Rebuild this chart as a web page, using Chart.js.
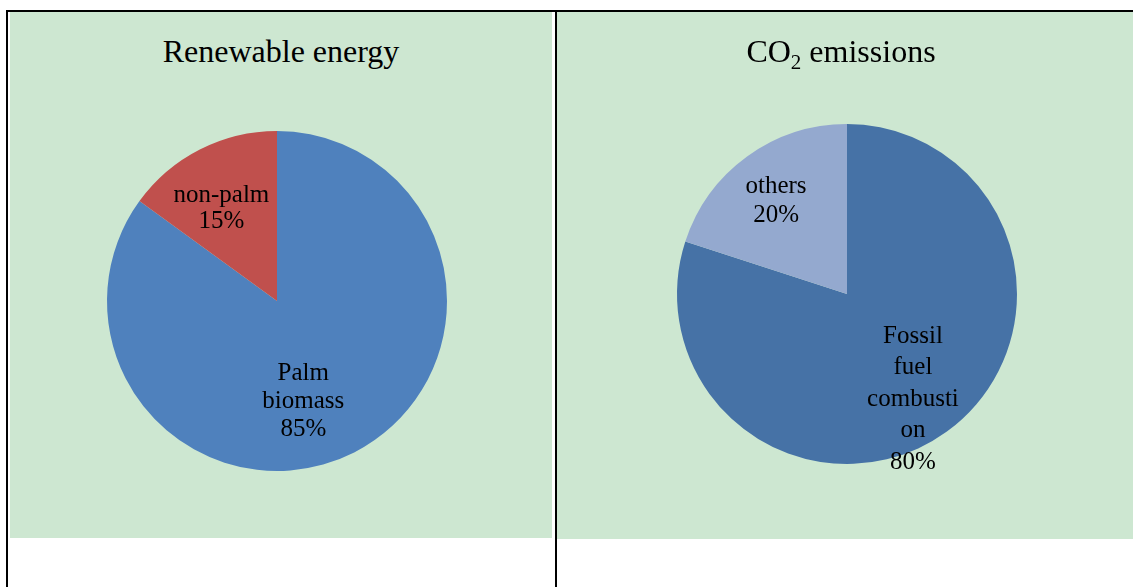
<!DOCTYPE html>
<html>
<head>
<meta charset="utf-8">
<script src="https://cdn.jsdelivr.net/npm/chart.js@4"></script>
<style>
  body { margin: 0; background: #fff; width: 1133px; height: 587px; position: relative; overflow: hidden;
         font-family: "Liberation Serif", "Times New Roman", serif; }
  .line { position: absolute; background: #000; }
  .panel { position: absolute; background: #cde7d1; }
  .title { position: absolute; left: 0; right: 0; text-align: center; font-size: 32px; color: #000; }
  .title sub { font-size: 21px; vertical-align: -7px; line-height: 0; }
  canvas { position: absolute; left: 0; top: 0; }
</style>
</head>
<body>
<!-- table borders -->
<div class="line" style="left:6px;top:10px;width:1127px;height:2px;"></div>
<div class="line" style="left:6px;top:10px;width:2px;height:577px;"></div>
<div class="line" style="left:555px;top:10px;width:2px;height:577px;"></div>

<div class="panel" id="p1" style="left:10px;top:12px;width:542px;height:526px;">
  <div class="title" style="top:21px;">Renewable energy</div>
  <canvas id="energyChart"></canvas>
</div>
<div class="panel" id="p2" style="left:557px;top:12px;width:576px;height:527px;">
  <div class="title" style="top:21px;left:-8px;">CO<sub>2</sub> emissions</div>
  <canvas id="co2Chart"></canvas>
</div>

<script>
// Renewable energy
const energyLabels = ['Palm biomass', 'non-palm'];
const energyValues = [85, 15];
const energyLines = [['Palm', 'biomass', '85%'], ['non-palm', '15%']];
const energyColors = ['#4f81bd', '#c0504d'];

// CO2 emissions
const co2Labels = ['Fossil fuel combustion', 'others'];
const co2Values = [80, 20];
const co2Lines = [['Fossil', 'fuel', 'combusti', 'on', '80%'], ['others', '20%']];
const co2Colors = ['#4672a6', '#94a9cf'];

// draws the data labels inside each slice
const sliceLabels = {
  id: 'sliceLabels',
  afterDatasetsDraw(chart, args, opts) {
    const ctx = chart.ctx;
    const meta = chart.getDatasetMeta(0);
    ctx.save();
    ctx.font = opts.size + 'px "Liberation Serif", "Times New Roman", serif';
    ctx.fillStyle = '#000';
    ctx.textAlign = 'center';
    ctx.textBaseline = 'middle';
    meta.data.forEach((arc, i) => {
      const mid = (arc.startAngle + arc.endAngle) / 2;
      const r = arc.outerRadius * opts.dist[i];
      const x = arc.x + Math.cos(mid) * r + opts.shift[i][0];
      const y = arc.y + Math.sin(mid) * r + opts.shift[i][1];
      const lines = opts.lines[i];
      const lh = opts.lineHeight[i];
      lines.forEach((t, k) => {
        ctx.fillText(t, x, y + (k - (lines.length - 1) / 2) * lh);
      });
    });
    ctx.restore();
  }
};

function makePie(id, labels, values, colors, lines, padding, dist, shift, lineHeight, size) {
  const el = document.getElementById(id);
  const box = el.parentElement;
  el.width = box.clientWidth;
  el.height = box.clientHeight;
  return new Chart(el.getContext('2d'), {
    type: 'pie',
    data: {
      labels: labels,
      datasets: [{
        data: values,
        backgroundColor: colors,
        borderWidth: 0,
      }],
    },
    options: {
      responsive: false,
      animation: false,
      layout: { padding: padding },
      plugins: {
        legend: { display: false },
        tooltip: { enabled: false },
        title: { display: false },
        sliceLabels: { lines: lines, dist: dist, shift: shift, lineHeight: lineHeight, size: size },
      },
    },
    plugins: [sliceLabels],
  });
}

makePie('energyChart', energyLabels, energyValues, energyColors, energyLines,
  { left: 97, right: 105, top: 119, bottom: 67 },
  [0.6, 0.63], [[-20, 10], [-7, 3]], [28, 26], 25);

makePie('co2Chart', co2Labels, co2Values, co2Colors, co2Lines,
  { left: 120, right: 116, top: 112, bottom: 75 },
  [0.72, 0.7], [[-6, 6], [-1, 3]], [31.5, 29], 25);
</script>
</body>
</html>
